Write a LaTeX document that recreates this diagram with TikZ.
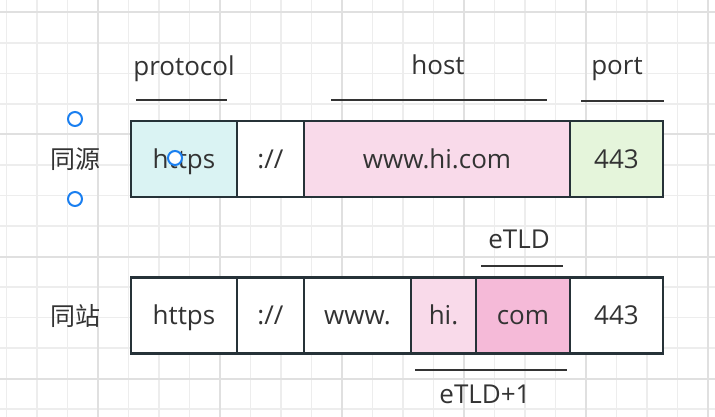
\documentclass[tikz,border=0pt]{standalone}
\usepackage{fontspec}
\setmainfont{Open Sans}
\newfontfamily\cjk{Noto Sans CJK SC}
\usetikzlibrary{positioning}
\definecolor{cell-border}{HTML}{263238}
\definecolor{text-gray}{HTML}{333333}
\definecolor{proto-cyan}{HTML}{DAF3F3}
\definecolor{host-pink}{HTML}{F9DAEA}
\definecolor{tld-pink}{HTML}{F5BAD8}
\definecolor{port-green}{HTML}{E5F5DB}
\definecolor{grid-minor}{HTML}{EDEDED}
\definecolor{grid-major}{HTML}{E0E0E0}
\definecolor{handle-blue}{HTML}{1A7FF0}

\begin{document}
\begin{tikzpicture}[
    x=1pt, y=-1pt,
    cell/.style={rectangle, draw=cell-border, line width=2.5pt, fill=white, minimum height=76pt, inner sep=0pt, outer sep=0pt, text height=24pt, text depth=6pt, text=text-gray, font=\fontsize{26}{30}\selectfont},
    part/.style={anchor=base, text=text-gray, font=\fontsize{26}{30}\selectfont},
    rowname/.style={text=text-gray, font=\cjk\fontsize{25}{29}\selectfont},
    bar/.style={draw=text-gray, line width=2.5pt},
    handle/.style={circle, draw=handle-blue, line width=2pt, fill=white, minimum size=14pt, inner sep=0pt},
]
\useasboundingbox (0,0) rectangle (715,417);

% Grid
\foreach \k in {0,...,23} \draw[grid-minor, line width=1.2pt] ({6.5+30.5*\k},0) -- ({6.5+30.5*\k},417);
\foreach \k in {0,...,13} \draw[grid-minor, line width=1.2pt] (0,{12.5+30.5*\k}) -- (715,{12.5+30.5*\k});
\foreach \g in {98,220,342,464,586,708} \draw[grid-major, line width=2pt] (\g,0) -- (\g,417);
\foreach \g in {12.5,134.5,256.5,378.5} \draw[grid-major, line width=2pt] (0,\g) -- (715,\g);

% Same origin
\node[rowname] (origin) at (75,159) {同源};
\node[cell, fill=proto-cyan, minimum width=106pt, anchor=west] (proto) at (131,159) {https};
\node[cell, minimum width=67pt, right=0pt of proto] (sep) {://};
\node[cell, fill=host-pink, minimum width=266pt, right=0pt of sep] (host) {www.hi.com};
\node[cell, fill=port-green, minimum width=93pt, right=0pt of host] (port) {443};

% Same site
\node[rowname] (site) at (75,316) {同站};
\node[cell, minimum width=106pt, anchor=west] (proto2) at (131,315.5) {https};
\node[cell, minimum width=67pt, right=0pt of proto2] (sep2) {://};
\node[cell, minimum width=107pt, right=0pt of sep2] (sub) {www.};
\node[cell, fill=host-pink, minimum width=65pt, right=0pt of sub] (domain) {hi.};
\node[cell, fill=tld-pink, minimum width=94pt, right=0pt of domain] (tld) {com};
\node[cell, minimum width=93pt, right=0pt of tld] (port2) {443};

% Parts
\node[part] (protocol-tag) at (184,76) {protocol};
\node[part] (host-tag) at (438,75) {host};
\node[part] (port-tag) at (617,75) {port};
\node[part] (etld-tag) at (519,248) {eTLD};
\node[part] (etld1-tag) at (485,403) {eTLD+1};
\draw[bar] (136,100) -- (227,100);
\draw[bar] (331,100) -- (547,100);
\draw[bar] (581,101) -- (664,101);
\draw[bar] (481,266) -- (563,266);
\draw[bar] (415,370) -- (567,370);

% Handles
\node[handle] (h1) at (75,119) {};
\node[handle] (h2) at (75,199) {};
\node[handle] (h3) at (175,158) {};

\end{tikzpicture}
\end{document}
